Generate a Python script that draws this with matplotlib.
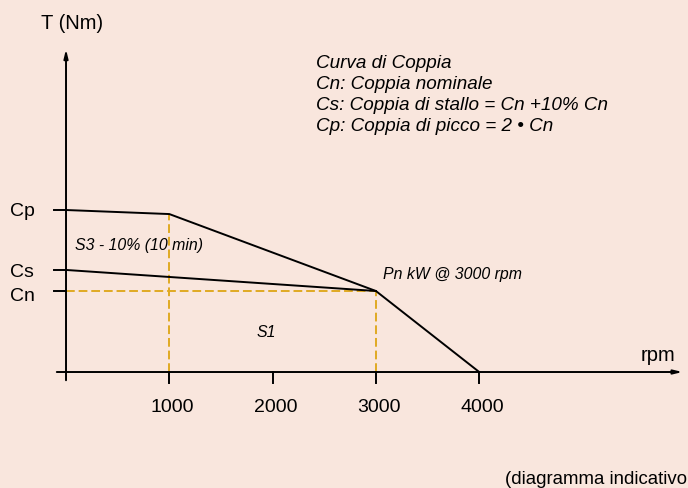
import matplotlib
matplotlib.use('Agg')
from matplotlib import pyplot as plt

# punti della curva di coppia (T in unita' di Cn)
rpm_ticks = [1000, 2000, 3000, 4000]
tick_labels = ['1000', '2000', '3000', '4000']
Cn, Cs, Cp = 1.0, 1.26, 2.0
s3_rpm = [0, 1000, 3000, 4000]
s3_T = [Cp, 1.95, Cn, 0]
s1_rpm = [0, 3000]
s1_T = [Cs, Cn]
legend_lines = ['Curva di Coppia',
                'Cn: Coppia nominale',
                'Cs: Coppia di stallo = Cn +10% Cn',
                'Cp: Coppia di picco = 2 \u2022 Cn']

bg = '#f9e6dd'
gold = '#e0aa22'
plt.rcParams['font.family'] = ['Liberation Sans', 'DejaVu Sans']

fig = plt.figure(figsize=(6.88, 4.89), dpi=100, facecolor=bg)
ax = fig.add_axes([0, 0, 1, 1])
ax.set_facecolor(bg)
ax.set_xlim(-639, 6021)
ax.set_ylim(-1.432, 4.605)
ax.axis('off')

# assi con frecce
ax.annotate('', xy=(5995, 0), xytext=(-116, 0),
            arrowprops=dict(arrowstyle='-|>,head_length=0.5,head_width=0.12', color='black', lw=1.4))
ax.annotate('', xy=(0, 4.02), xytext=(0, -0.136),
            arrowprops=dict(arrowstyle='-|>,head_length=0.5,head_width=0.12', color='black', lw=1.4))
for r in rpm_ticks:
    ax.plot([r, r], [0, -0.136], color='black', lw=1.4)
for v in [Cn, Cs, Cp]:
    ax.plot([-116, 0], [v, v], color='black', lw=1.4)

# linee tratteggiate
ax.plot([0, 3000], [Cn, Cn], color=gold, lw=1.4, ls=(0, (4.5, 2)))
ax.plot([1000, 1000], [0, 1.95], color=gold, lw=1.4, ls=(0, (4.5, 2)))
ax.plot([3000, 3000], [0, Cn], color=gold, lw=1.4, ls=(0, (4.5, 2)))

# curve
ax.plot(s3_rpm, s3_T, color='black', lw=1.4)
ax.plot(s1_rpm, s1_T, color='black', lw=1.4)

for r, lab in zip(rpm_ticks, tick_labels):
    ax.text(r + 30, -0.42, lab, ha='center', va='center', fontsize=14)
for lab, v, dy in [('Cp', Cp, 0), ('Cs', Cs, -0.02), ('Cn', Cn, -0.06)]:
    ax.text(-542, v + dy, lab, ha='left', va='center', fontsize=14)

ax.text(58, 4.31, 'T (Nm)', ha='center', va='center', fontsize=14.5)
ax.text(5731, 0.21, 'rpm', ha='center', va='center', fontsize=14.5)
for i, line in enumerate(legend_lines):
    ax.text(2420, 3.815 - i * 0.259, line, ha='left', va='center', fontsize=13.6, style='italic')
ax.text(87, 1.58, 'S3 - 10% (10 min)', ha='left', va='center', fontsize=11.4, style='italic')
ax.text(3069, 1.21, 'Pn kW @ 3000 rpm', ha='left', va='center', fontsize=11.4, style='italic')
ax.text(1936, 0.506, 'S1', ha='center', va='center', fontsize=11.4, style='italic')
ax.text(4250, -1.32, '(diagramma indicativo', ha='left', va='center', fontsize=13.4)

fig.savefig('out.png', dpi=100, facecolor=bg)
